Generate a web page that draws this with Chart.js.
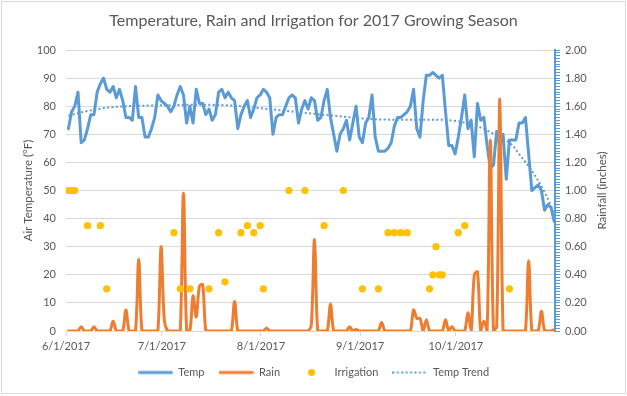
<!DOCTYPE html>
<html>
<head>
<meta charset="utf-8">
<script src="https://cdn.jsdelivr.net/npm/chart.js@4.4.1/dist/chart.umd.min.js"></script>
<style>
html,body{margin:0;padding:0;background:#ffffff;}
#c{display:block;}
</style>
</head>
<body>
<canvas id="c" width="627" height="396"></canvas>
<script>
// ---------------- DATA ----------------
const chartTitle = 'Temperature, Rain and Irrigation for 2017 Growing Season';
const tickDays = [0, 30, 61, 92, 122];            // day index of 6/1, 7/1, 8/1, 9/1, 10/1
const tickLabels = ['6/1/2017', '7/1/2017', '8/1/2017', '9/1/2017', '10/1/2017'];
const tempTicks = [0, 10, 20, 30, 40, 50, 60, 70, 80, 90, 100];
const rainTickLabels = ['0.00', '0.20', '0.40', '0.60', '0.80', '1.00', '1.20', '1.40', '1.60', '1.80', '2.00'];

// daily air temperature (°F), 6/1/2017 .. 10/31/2017
const temps = [
  72, 78, 80, 85, 67, 68, 72, 77, 77, 85,
  88, 90, 86, 85, 87, 83, 86, 82, 76, 76,
  75, 87, 76, 76, 69, 69, 72, 76, 84, 82,
  81, 80, 78, 80, 84, 87, 84, 74, 80, 74,
  86, 81, 81, 77, 79, 75, 77, 85, 86, 83,
  85, 83, 82, 72, 77, 80, 82, 76, 79, 83,
  84, 86, 85, 83, 70, 76, 77, 77, 80, 83,
  84, 83, 74, 79, 82, 79, 83, 82, 75, 76,
  82, 86, 76, 70, 64, 70, 72, 75, 68, 74,
  80, 69, 67, 74, 76, 84, 69, 64, 64, 64,
  65, 67, 73, 76, 76, 77, 78, 80, 86, 72,
  69, 82, 91, 91, 92, 91, 90, 91, 78, 66,
  66, 63, 69, 76, 84, 72, 75, 62, 81, 75,
  76, 66, 58, 59, 71, 66, 70, 54, 68, 68,
  68, 74, 74, 76, 63, 50, 51, 52, 50, 43,
  45, 44, 39
];

// daily rainfall (inches), same days
const rain = [
  0, 0, 0, 0, 0.03, 0, 0, 0, 0.03, 0,
  0, 0, 0, 0, 0.07, 0, 0, 0, 0.15, 0,
  0, 0, 0.51, 0, 0, 0, 0, 0, 0, 0.60,
  0.08, 0, 0, 0, 0, 0, 0.98, 0, 0, 0.25,
  0.10, 0.32, 0.33, 0, 0, 0, 0, 0, 0, 0,
  0, 0, 0.21, 0, 0, 0, 0, 0, 0, 0,
  0, 0, 0.02, 0, 0, 0, 0, 0, 0, 0,
  0, 0, 0, 0, 0, 0, 0.04, 0.65, 0, 0,
  0, 0, 0.19, 0, 0, 0, 0, 0, 0.03, 0,
  0.01, 0, 0, 0, 0, 0, 0, 0, 0.06, 0,
  0, 0, 0, 0, 0, 0, 0, 0, 0.15, 0.09,
  0.09, 0, 0.08, 0, 0, 0, 0, 0, 0.08, 0,
  0.03, 0, 0, 0, 0, 0.13, 0, 0.40, 0.42, 0,
  0.07, 0, 1.36, 0, 0.03, 1.65, 0, 0, 0, 0,
  0, 0, 0, 0, 0.50, 0, 0, 0, 0.14, 0,
  0, 0, 0.01
];

// irrigation events: day index and amount (inches)
const irrigationDays   = [0, 1, 2, 6, 10, 12, 33, 35, 38, 44, 47, 49, 54, 56, 58, 60, 61, 69, 74, 80, 86, 92, 97, 100, 102, 104, 106, 113, 114, 115, 116, 117, 122, 124, 138];
const irrigationInches = [1.00, 1.00, 1.00, 0.75, 0.75, 0.30, 0.70, 0.30, 0.30, 0.30, 0.70, 0.35, 0.70, 0.75, 0.70, 0.75, 0.30, 1.00, 1.00, 0.75, 1.00, 0.30, 0.30, 0.70, 0.70, 0.70, 0.70, 0.30, 0.40, 0.60, 0.40, 0.40, 0.70, 0.75, 0.30];

// temperature trend line
const trendDays  = [0, 4, 8, 13, 18, 29, 39, 50, 60, 70, 75, 85, 95, 105, 116, 122, 128, 134, 139, 141, 145, 148, 151, 152];
const trendTemps = [76.6, 77.8, 78.7, 79.6, 80.0, 80.3, 80.5, 80.3, 79.3, 78.1, 77.5, 76.4, 75.4, 75.2, 75.2, 74.6, 72.8, 69.6, 66.0, 63.0, 57.0, 51.5, 44.5, 41.5];

// ---------------- STYLE ----------------
const BLUE = '#5B9BD5', ORANGE = '#ED7D31', YELLOW = '#FFC000';
const TEXT = '#595959', GRID = '#D9D9D9';
const FONT = 'Lato';
const W = 627, H = 396;
const PLOT_TOP = 50, PLOT_BOTTOM = 331, PLOT_LEFT = 66, PLOT_RIGHT = 555;
const DAY_OFFSET = 0.75;   // points sit late in each day slot
const PAD_BOTTOM = 8;

function icon(w, h, draw) {
  const c = document.createElement('canvas');
  c.width = w; c.height = h;
  draw(c.getContext('2d'));
  return c;
}
const tempIcon = icon(35, 6, g => { g.strokeStyle = BLUE; g.lineWidth = 3; g.lineCap = 'round'; g.beginPath(); g.moveTo(1.5, 3); g.lineTo(33.5, 3); g.stroke(); });
const rainIcon = icon(35, 6, g => { g.strokeStyle = ORANGE; g.lineWidth = 3; g.lineCap = 'round'; g.beginPath(); g.moveTo(1.5, 3); g.lineTo(33.5, 3); g.stroke(); });
const irrIcon = icon(35, 9, g => { g.fillStyle = YELLOW; g.beginPath(); g.arc(17.5, 4.5, 3.6, 0, Math.PI * 2); g.fill(); });
const trendIcon = icon(35, 4, g => { g.strokeStyle = BLUE; g.lineWidth = 2; g.setLineDash([2, 2.4]); g.beginPath(); g.moveTo(0, 2); g.lineTo(35, 2); g.stroke(); });
const legendIcons = [tempIcon, rainIcon, irrIcon, trendIcon];

const rainMinorTicks = Array.from({length: 101}, (_, k) => k / 50);

const framePlugin = {
  id: 'frame',
  beforeDraw(chart) {
    const g = chart.ctx;
    g.save();
    g.fillStyle = '#ffffff';
    g.fillRect(0, 0, W, H);
    g.restore();
  },
  afterDraw(chart) {
    const g = chart.ctx;
    g.save();
    g.strokeStyle = GRID;
    g.lineWidth = 1;
    g.strokeRect(1.5, 1.5, 624, 392);
    // right axis title, reading bottom to top
    g.translate(602, (chart.chartArea.top + chart.chartArea.bottom) / 2);
    g.rotate(-Math.PI / 2);
    g.fillStyle = TEXT;
    g.font = '11.5px ' + FONT;
    g.textAlign = 'center';
    g.textBaseline = 'middle';
    g.fillText('Rainfall (inches)', 0, 0);
    g.restore();
  }
};

const ctx = document.getElementById('c').getContext('2d');
new Chart(ctx, {
  type: 'line',
  data: {
    datasets: [
      {
        label: 'Temp',
        data: temps.map((v, i) => ({x: i + DAY_OFFSET, y: v})),
        yAxisID: 'y',
        borderColor: BLUE,
        borderWidth: 3,
        pointRadius: 0,
        tension: 0,
        borderJoinStyle: 'round',
        borderCapStyle: 'round',
        order: 3
      },
      {
        label: 'Rain',
        data: rain.map((v, i) => ({x: i + DAY_OFFSET, y: v})),
        yAxisID: 'y2',
        borderColor: ORANGE,
        borderWidth: 3,
        pointRadius: 0,
        tension: 0.35,
        borderJoinStyle: 'round',
        borderCapStyle: 'round',
        order: 1
      },
      {
        label: 'Irrigation',
        type: 'scatter',
        data: irrigationDays.map((d, k) => ({x: d + DAY_OFFSET, y: irrigationInches[k]})),
        yAxisID: 'y2',
        backgroundColor: YELLOW,
        borderWidth: 0,
        pointRadius: 3.6,
        showLine: false,
        order: 0
      },
      {
        label: 'Temp Trend',
        data: trendDays.map((d, k) => ({x: d + DAY_OFFSET, y: trendTemps[k]})),
        yAxisID: 'y',
        borderColor: BLUE,
        borderWidth: 2,
        borderDash: [2, 2.4],
        pointRadius: 0,
        cubicInterpolationMode: 'monotone',
        order: 2
      }
    ]
  },
  options: {
    responsive: false,
    animation: false,
    devicePixelRatio: 1,
    layout: {padding: {left: 0, right: 0, top: 0, bottom: PAD_BOTTOM}},
    plugins: {
      title: {
        display: true,
        text: chartTitle,
        color: TEXT,
        font: {family: FONT, size: 16, weight: 'normal'},
        padding: {top: 11, bottom: 19.8}
      },
      legend: {
        position: 'bottom',
        labels: {
          usePointStyle: true,
          pointStyleWidth: 35,
          boxHeight: 11,
          padding: 14,
          color: TEXT,
          font: {family: FONT, size: 11},
          generateLabels: (chart) => chart.data.datasets.map((ds, i) => ({
            text: ds.label,
            pointStyle: legendIcons[i],
            fillStyle: 'transparent',
            strokeStyle: 'transparent',
            lineWidth: 0,
            hidden: false,
            datasetIndex: i,
            fontColor: TEXT
          }))
        }
      },
      tooltip: {enabled: false}
    },
    scales: {
      x: {
        type: 'linear',
        min: 0,
        max: 153,
        afterBuildTicks: s => { s.ticks = tickDays.map(v => ({value: v})); },
        ticks: {
          autoSkip: false,
          maxRotation: 0,
          padding: 4,
          color: TEXT,
          font: {family: FONT, size: 11},
          callback: v => { const k = tickDays.indexOf(v); return k >= 0 ? tickLabels[k] : ''; }
        },
        grid: {drawOnChartArea: false, drawTicks: true, tickLength: 5, color: GRID},
        border: {display: true, color: GRID, width: 1},
        afterFit: s => {
          const lg = s.chart.legend ? s.chart.legend.height : 0;
          s.height = H - PLOT_BOTTOM - PAD_BOTTOM - lg;
        }
      },
      y: {
        position: 'left',
        min: 0,
        max: 100,
        afterBuildTicks: s => { s.ticks = tempTicks.map(v => ({value: v})); },
        ticks: {padding: 10, color: TEXT, font: {family: FONT, size: 11}},
        grid: {color: GRID, drawTicks: false, lineWidth: 1},
        border: {display: false},
        title: {
          display: true,
          text: 'Air Temperature (°F)',
          color: TEXT,
          font: {family: FONT, size: 11.5},
          padding: {top: 21, bottom: 0}
        },
        afterFit: s => { s.width = PLOT_LEFT; }
      },
      y2: {
        position: 'right',
        min: 0,
        max: 2,
        afterBuildTicks: s => { s.ticks = rainMinorTicks.map(v => ({value: v})); },
        ticks: {
          autoSkip: false,
          padding: 5,
          color: TEXT,
          font: {family: FONT, size: 11},
          callback: v => {
            const k = Math.round(v * 5);
            return Math.abs(v * 5 - k) < 1e-6 ? rainTickLabels[k] : '';
          }
        },
        grid: {drawOnChartArea: false, drawTicks: true, tickLength: 5, color: BLUE, tickColor: BLUE},
        border: {display: true, color: BLUE, width: 2},
        afterFit: s => { s.width = W - PLOT_RIGHT; }
      }
    }
  },
  plugins: [framePlugin]
});
</script>
</body>
</html>
